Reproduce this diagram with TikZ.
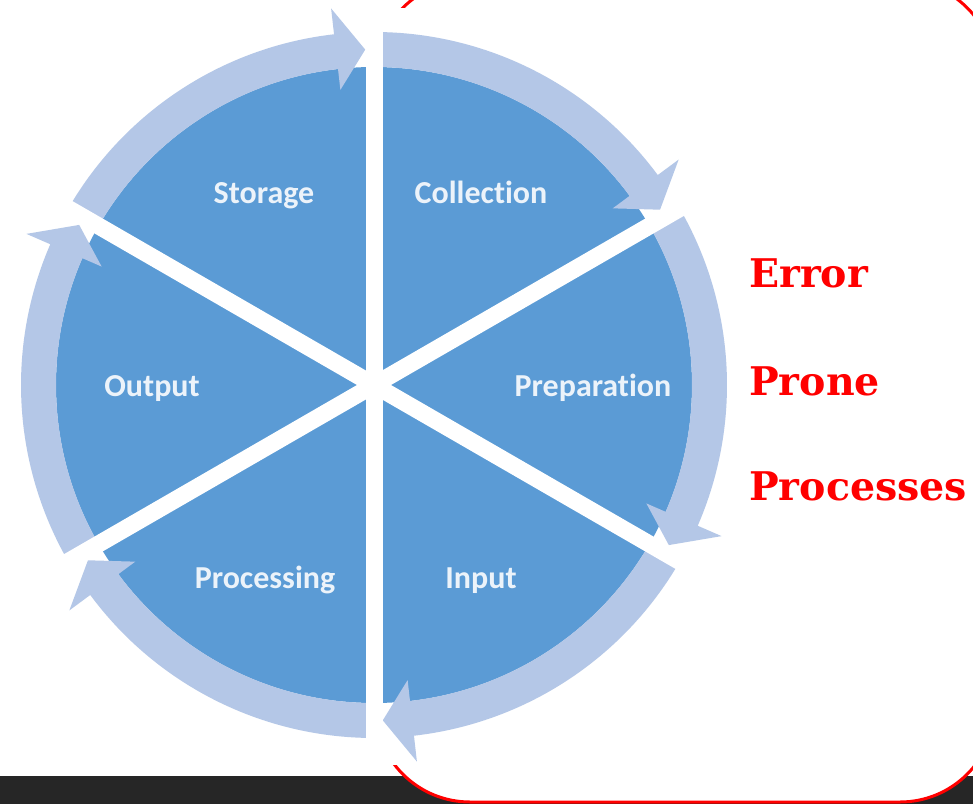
\documentclass[tikz,border=0pt]{standalone}
\usepackage{fontspec}
\newfontfamily\labfont[Ligatures=NoCommon]{Carlito}
\newfontfamily\redfont{DejaVu Serif}
\definecolor{pieblue}{RGB}{91,155,213}
\definecolor{ringblue}{RGB}{180,199,231}
\definecolor{darkbar}{RGB}{38,38,38}
\definecolor{labc}{RGB}{236,243,250}
\begin{document}
\begin{tikzpicture}[x=1pt,y=1pt,
  seglabel/.style={font=\labfont\bfseries\fontsize{32}{38}\selectfont, text=labc, anchor=base, inner sep=0pt},
  redword/.style={font=\redfont\bfseries\fontsize{39.5}{46}\selectfont, text=red, anchor=base west, inner sep=0pt},
  ringseg/.style={fill=ringblue},
  gapline/.style={draw=white, line width=17pt}]
\useasboundingbox (0,0) rectangle (973,804);
\fill[darkbar] (0,0) rectangle (973,28);
\draw[red, line width=3pt, fill=white, rounded corners=95pt] (375,2) rectangle (995,824);
\fill[white] (0,39) rectangle (745,796);
\begin{scope}[shift={(374,419)}]
  \fill[pieblue] (0,0) circle[radius=318];
  \foreach \e in {90,30,-30,-90,-150,-210}{
    \pgfmathsetmacro\s{\e+60}
    \pgfmathsetmacro\t{\e+1.5}
    \pgfmathsetmacro\b{\e+6.5}
    \fill[ringseg] (\s:353) arc[start angle=\s, end angle=\b, radius=353]
      -- (\b:379) -- (\t:335.5) -- (\b:297) -- (\b:318)
      arc[start angle=\b, end angle=\s, radius=318] -- cycle;
  }
  \foreach \a in {90,30,-30}{
    \draw[gapline] (\a+180:385) -- (\a:385);
  }
\end{scope}
\node[seglabel] (storage) at (264,600) {Storage};
\node[seglabel] (collection) at (481,600) {Collection};
\node[seglabel] (output) at (152,408) {Output};
\node[seglabel] (preparation) at (593,408) {Preparation};
\node[seglabel] (processing) at (265,216) {Processing};
\node[seglabel] (input) at (481,216) {Input};
\node[redword] (error) at (749,516) {Error};
\node[redword] (prone) at (749,409) {Prone};
\node[redword] (processes) at (749,304) {Processes};
\end{tikzpicture}
\end{document}
